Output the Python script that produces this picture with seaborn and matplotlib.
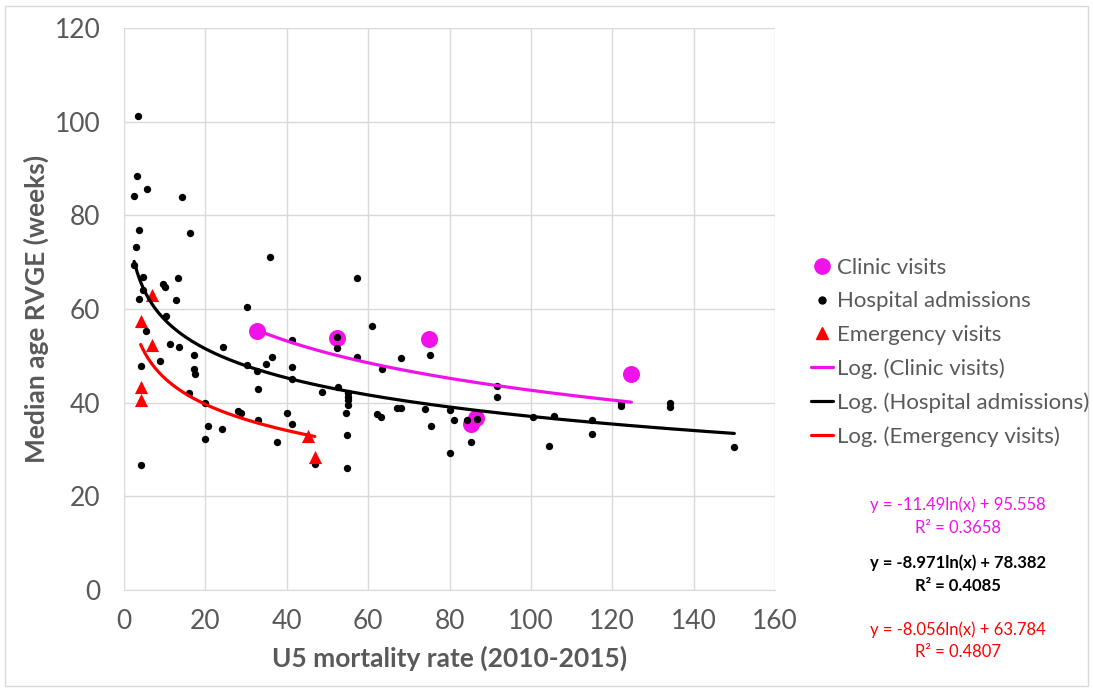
import numpy as np
import pandas as pd
import matplotlib
matplotlib.use("Agg")
import matplotlib.pyplot as plt
from matplotlib.lines import Line2D
from matplotlib.patches import Rectangle
import seaborn as sns

# --- data ---
hosp_x = [3.4, 3.1, 5.7, 2.5, 14.2, 3.6, 16.1, 3.0, 35.9, 2.5, 4.6, 13.2, 9.6, 10.0, 4.6,
          3.7, 12.7, 30.2, 10.3, 5.3, 11.3, 13.6, 24.3, 41.3, 17.3, 8.8, 4.3, 17.3, 17.4,
          30.3, 32.6, 34.9, 36.3, 41.3, 41.3, 32.9, 16.0, 48.7, 52.5, 20.0, 28.0, 28.8,
          40.0, 32.9, 41.3, 54.5, 20.6, 24.2, 19.8, 37.5, 54.9, 54.9, 4.2, 46.9, 57.3,
          60.9, 52.4, 52.4, 57.3, 68.0, 75.1, 63.5, 55.1, 55.1, 55.1, 55.1, 62.2, 63.2,
          67.2, 68.1, 74.0, 80.1, 81.2, 75.4, 84.3, 86.7, 85.3, 80.1, 91.6, 91.6, 122.1,
          122.1, 134.2, 134.2, 100.6, 105.6, 104.4, 115.0, 115.0, 150.0]
hosp_y = [101.2, 88.3, 85.7, 84.1, 83.9, 76.8, 76.2, 73.3, 71.0, 69.3, 66.8, 66.6, 65.4, 64.7, 64.1,
          62.1, 61.9, 60.4, 58.4, 55.4, 52.6, 51.8, 51.9, 53.4, 50.2, 48.8, 47.8, 47.2, 46.1,
          48.1, 46.8, 48.2, 49.8, 47.7, 45.1, 43.0, 42.1, 42.3, 43.3, 39.9, 38.2, 37.7,
          37.7, 36.2, 35.4, 37.9, 35.1, 34.3, 32.2, 31.7, 33.1, 26.0, 26.6, 26.8, 66.6,
          56.4, 54.0, 51.6, 49.7, 49.6, 50.2, 47.1, 42.0, 41.2, 40.5, 39.6, 37.5, 37.0,
          38.8, 38.8, 38.6, 38.4, 36.2, 35.1, 36.4, 36.6, 31.5, 29.3, 43.6, 41.2, 40.0,
          39.3, 39.9, 39.0, 36.9, 37.2, 30.7, 36.3, 33.3, 30.6]

clinic_x = [32.6, 52.3, 75.0, 85.2, 86.5, 124.7]
clinic_y = [55.2, 53.8, 53.7, 35.4, 36.8, 46.2]

emerg_x = [7.0, 4.1, 6.8, 4.1, 4.1, 45.3, 46.9]
emerg_y = [63.0, 57.4, 52.4, 43.3, 40.6, 32.9, 28.3]

# log trendline coefficients (slope, intercept) as printed on the chart
clinic_fit = [-11.49, 95.558]
hosp_fit = [-8.971, 78.382]
emerg_fit = [-8.056, 63.784]

MAGENTA = "#f012e8"
RED = "#ff0000"
GRAY = "#595959"

sns.set_style("white")
plt.rcParams['font.family'] = ['Lato', 'DejaVu Sans']

fig = plt.figure(figsize=(10.93, 6.88), dpi=100)
ax = fig.add_axes([124 / 1093, 98 / 688, 651 / 1093, 562 / 688])

sns.scatterplot(x=clinic_x, y=clinic_y, color=MAGENTA, s=150, linewidth=0, ax=ax, zorder=3)
sns.scatterplot(x=hosp_x, y=hosp_y, color="black", s=28, linewidth=0, ax=ax, zorder=4)
sns.scatterplot(x=emerg_x, y=emerg_y, color=RED, marker="^", s=90, linewidth=0, ax=ax, zorder=4)


def trend(xs, fit):
    xx = np.linspace(min(xs), max(xs), 200)
    return pd.DataFrame({"x": xx, "y": fit[0] * np.log(xx) + fit[1]})


for xs, fit, col in [(clinic_x, clinic_fit, MAGENTA), (hosp_x, hosp_fit, "black"),
                     (emerg_x, emerg_fit, RED)]:
    d = trend(xs, fit)
    sns.lineplot(data=d, x="x", y="y", color=col, linewidth=2.3, ax=ax, zorder=5)

ax.set_xlim(0, 160)
ax.set_ylim(0, 120)
ax.set_xticks(range(0, 161, 20))
ax.set_yticks(range(0, 121, 20))
ax.grid(True, color="#d9d9d9", linewidth=1)
ax.set_axisbelow(True)
for s in ["top", "right", "left"]:
    ax.spines[s].set_visible(False)
ax.spines["bottom"].set_color("#d9d9d9")
ax.tick_params(axis="both", length=0, labelsize=19, colors=GRAY)
ax.tick_params(axis="x", pad=14)
ax.tick_params(axis="y", pad=17)
ax.set_xlabel("U5 mortality rate (2010-2015)", fontsize=19, fontweight="bold", color=GRAY, labelpad=8)
ax.set_ylabel("Median age RVGE (weeks)", fontsize=19, fontweight="bold", color=GRAY, labelpad=4)

handles = [
    Line2D([], [], marker="o", color=MAGENTA, linestyle="none", markersize=11),
    Line2D([], [], marker="o", color="black", linestyle="none", markersize=5),
    Line2D([], [], marker="^", color=RED, linestyle="none", markersize=8),
    Line2D([], [], color=MAGENTA, linewidth=2.3),
    Line2D([], [], color="black", linewidth=2.3),
    Line2D([], [], color=RED, linewidth=2.3),
]
labels = ["Clinic visits", "Hospital admissions", "Emergency visits",
          "Log. (Clinic visits)", "Log. (Hospital admissions)", "Log. (Emergency visits)"]
leg = fig.legend(handles, labels, loc="upper left", bbox_to_anchor=(800 / 1093, 1 - 247 / 688),
                 frameon=False, fontsize=16, handlelength=1.0, handletextpad=0.15,
                 labelspacing=0.6, borderpad=0)
for t in leg.get_texts():
    t.set_color(GRAY)

fs = 12
fig.text(958 / 1093, 1 - 505 / 688, "y = -11.49ln(x) + 95.558", color=MAGENTA, fontsize=fs, ha="center", va="center")
fig.text(958 / 1093, 1 - 528 / 688, "R² = 0.3658", color=MAGENTA, fontsize=fs, ha="center", va="center")
fig.text(958 / 1093, 1 - 563 / 688, "y = -8.971ln(x) + 78.382", color="black", fontsize=fs, fontweight="bold", ha="center", va="center")
fig.text(958 / 1093, 1 - 586 / 688, "R² = 0.4085", color="black", fontsize=fs, fontweight="bold", ha="center", va="center")
fig.text(958 / 1093, 1 - 630 / 688, "y = -8.056ln(x) + 63.784", color=RED, fontsize=fs, ha="center", va="center")
fig.text(958 / 1093, 1 - 652 / 688, "R² = 0.4807", color=RED, fontsize=fs, ha="center", va="center")

fig.patches.append(Rectangle((5 / 1093, 2 / 688), 1083 / 1093, 680 / 688, transform=fig.transFigure,
                             fill=False, edgecolor="#d9d9d9", linewidth=1))

fig.savefig("out.png", dpi=100)
